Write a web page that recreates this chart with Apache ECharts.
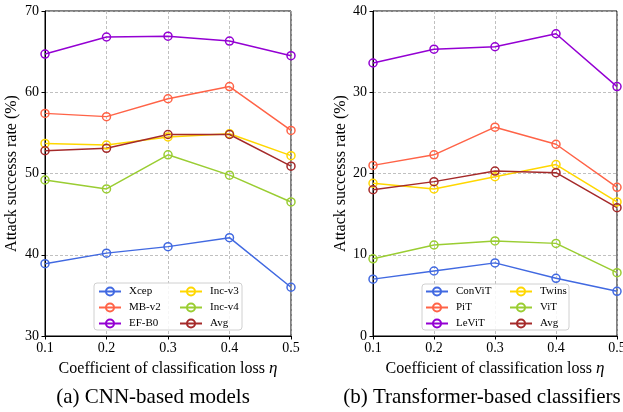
<!DOCTYPE html>
<html>
<head>
<meta charset="utf-8">
<script src="https://cdn.jsdelivr.net/npm/echarts@6/dist/echarts.min.js"></script>
<style>
  html, body { margin: 0; padding: 0; background: #fff; }
  #chart { width: 623px; height: 412px; }
</style>
</head>
<body>
<div id="chart"></div>
<script>
// eta values on the x axis
var etas = ['0.1', '0.2', '0.3', '0.4', '0.5'];

// (a) CNN-based models
var cnnNames = ['Xcep', 'MB-v2', 'EF-B0', 'Inc-v3', 'Inc-v4', 'Avg'];
var xcep  = [38.9, 40.2, 41.0, 42.1, 36.0];
var mbv2  = [57.4, 57.0, 59.2, 60.7, 55.3];
var efb0  = [64.7, 66.8, 66.9, 66.3, 64.5];
var incv3 = [53.7, 53.5, 54.5, 54.9, 52.2];
var incv4 = [49.2, 48.1, 52.3, 49.8, 46.5];
var cnnAvg = [52.8, 53.1, 54.8, 54.8, 50.9];

// (b) Transformer-based classifiers
var vitNames = ['ConViT', 'PiT', 'LeViT', 'Twins', 'ViT', 'Avg'];
var convit = [7.0, 8.0, 9.0, 7.1, 5.5];
var pit    = [21.0, 22.3, 25.7, 23.6, 18.3];
var levit  = [33.6, 35.3, 35.6, 37.2, 30.7];
var twins  = [18.8, 18.1, 19.6, 21.1, 16.5];
var vit    = [9.5, 11.2, 11.7, 11.4, 7.8];
var vitAvg = [18.0, 19.0, 20.3, 20.1, 15.8];

var colors = ['#4169e1', '#ff6347', '#9400d3', '#ffd700', '#9acd32', '#a52a2a'];
var font = 'Liberation Serif, Times New Roman, serif';

var myChart = echarts.init(document.getElementById('chart'));

function mkSeries(name, data, idx, color) {
  return {
    name: name,
    type: 'line',
    xAxisIndex: idx,
    yAxisIndex: idx,
    data: data,
    symbol: 'circle',
    symbolSize: 8,
    showSymbol: true,
    lineStyle: { color: color, width: 1.5 },
    itemStyle: { color: 'rgba(0,0,0,0)', borderColor: color, borderWidth: 1.5 },
    emphasis: { disabled: true },
    animation: false
  };
}

function mkX(idx) {
  return {
    type: 'category',
    gridIndex: idx,
    data: etas,
    boundaryGap: false,
    name: 'Coefficient of classification loss {i|η}',
    nameLocation: 'middle',
    nameGap: 19,
    nameTextStyle: {
      fontFamily: font, fontSize: 16, color: '#000',
      rich: { i: { fontFamily: font, fontSize: 17, fontStyle: 'italic', color: '#000' } }
    },
    axisLine: { show: true, lineStyle: { color: '#000', width: 1 } },
    axisTick: { show: true, inside: false, length: 3.5, alignWithLabel: true, lineStyle: { color: '#000' } },
    axisLabel: { fontFamily: font, fontSize: 14, color: '#000', margin: 5, interval: 0 },
    splitLine: { show: true, lineStyle: { color: '#b0b0b0', type: [3, 2], width: 0.8 } }
  };
}

function mkY(idx, min, max, gap) {
  return {
    type: 'value',
    gridIndex: idx,
    min: min,
    max: max,
    interval: 10,
    name: 'Attack successs rate (%)',
    nameLocation: 'middle',
    nameGap: gap,
    nameTextStyle: { fontFamily: font, fontSize: 16, color: '#000' },
    axisLine: { show: true, lineStyle: { color: '#000', width: 1 } },
    axisTick: { show: true, inside: false, length: 3.5, lineStyle: { color: '#000' } },
    axisLabel: { fontFamily: font, fontSize: 14, color: '#000', margin: 6 },
    splitLine: { show: true, lineStyle: { color: '#b0b0b0', type: [3, 2], width: 0.8 } }
  };
}

function mkLegend(names, left, top) {
  return {
    orient: 'vertical',
    left: left,
    top: top,
    padding: 0,
    itemGap: 5,
    itemWidth: 22,
    itemHeight: 10,
    z: 20,
    selectedMode: false,
    data: names,
    textStyle: { fontFamily: font, fontSize: 11, color: '#000', lineHeight: 10, padding: [0, 0, 0, 3] }
  };
}

var series = [];
[xcep, mbv2, efb0, incv3, incv4, cnnAvg].forEach(function (d, i) {
  series.push(mkSeries(cnnNames[i], d, 0, colors[i]));
});
[convit, pit, levit, twins, vit, vitAvg].forEach(function (d, i) {
  series.push(mkSeries(vitNames[i], d, 1, colors[i]));
});

var option = {
  backgroundColor: '#fff',
  animation: false,
  grid: [
    { left: 45, right: 332, top: 11, bottom: 76, outerBoundsMode: 'none', containLabel: false,
      show: true, borderColor: '#000', borderWidth: 1, backgroundColor: 'transparent' },
    { left: 373, right: 6, top: 11, bottom: 76, outerBoundsMode: 'none', containLabel: false,
      show: true, borderColor: '#000', borderWidth: 1, backgroundColor: 'transparent' }
  ],
  xAxis: [mkX(0), mkX(1)],
  yAxis: [mkY(0, 30, 70, 25), mkY(1, 0, 40, 23)],
  legend: [
    mkLegend(cnnNames.slice(0, 3), 98, 286),
    mkLegend(cnnNames.slice(3), 179, 286),
    mkLegend(vitNames.slice(0, 3), 425, 286),
    mkLegend(vitNames.slice(3), 509, 286)
  ],
  graphic: [
    { type: 'rect', z: 10, shape: { x: 94, y: 283, width: 148, height: 47, r: 3 },
      style: { fill: 'rgba(255,255,255,0.85)', stroke: '#d0d0d0', lineWidth: 1 } },
    { type: 'rect', z: 10, shape: { x: 422, y: 284, width: 147, height: 46, r: 3 },
      style: { fill: 'rgba(255,255,255,0.85)', stroke: '#d0d0d0', lineWidth: 1 } },
    { type: 'text', x: 153, y: 397, style: { text: '(a) CNN-based models', font: '21px ' + font, fill: '#000', align: 'center', verticalAlign: 'middle' } },
    { type: 'text', x: 482, y: 397, style: { text: '(b) Transformer-based classifiers', font: '21px ' + font, fill: '#000', align: 'center', verticalAlign: 'middle' } }
  ],
  series: series
};

myChart.setOption(option);
</script>
</body>
</html>
